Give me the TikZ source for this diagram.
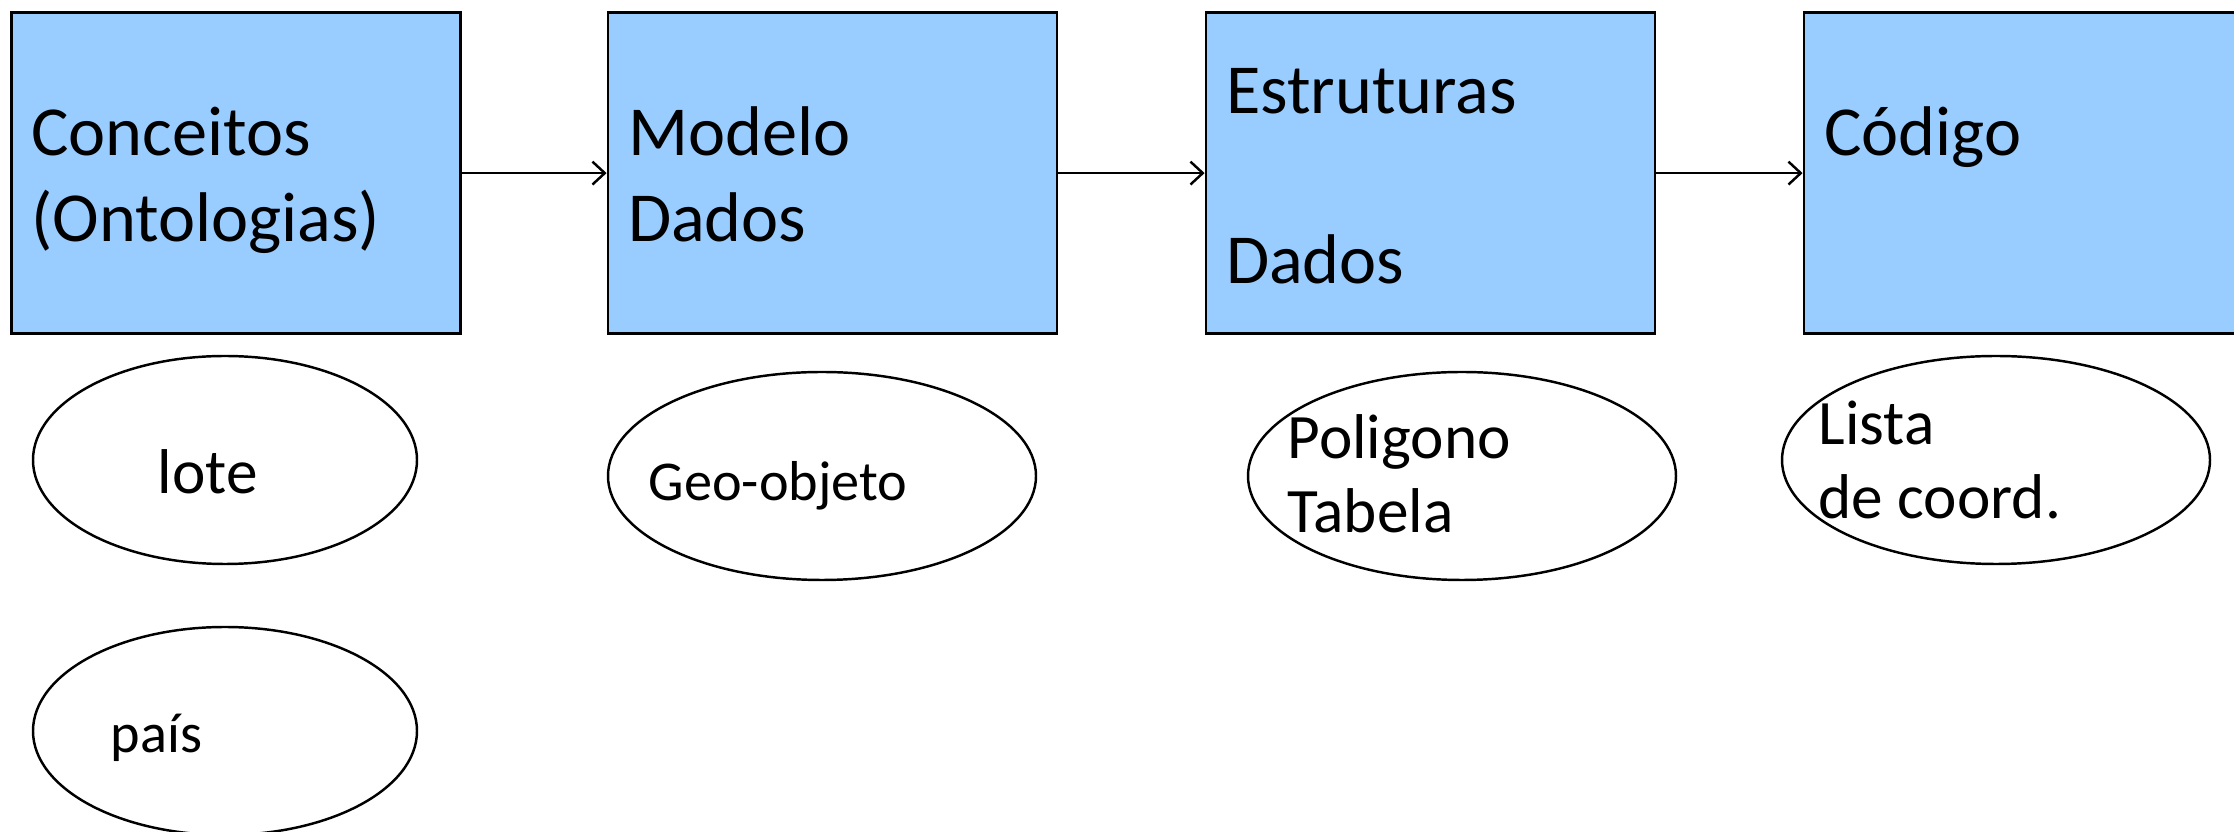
\documentclass[tikz,border=0pt]{standalone}
\usepackage{fontspec}
\setmainfont{Carlito}
\usetikzlibrary{shapes.geometric,arrows.meta}
\definecolor{boxblue}{HTML}{99CCFF}

\begin{document}
\begin{tikzpicture}[>={Straight Barb[length=3.5pt,width=6.5pt]},
  box/.style={draw,line width=0.8pt,fill=boxblue,minimum width=4.49cm,minimum height=3.21cm,
    text width=4.09cm,inner xsep=0.2cm,align=left,font=\fontsize{20}{24.2}\selectfont,
    execute at begin node={\rule{0pt}{19.45pt}},execute at end node={\rule[-5pt]{0pt}{5pt}}},
  oval/.style={draw,ellipse,line width=0.7pt,minimum height=2.08cm,inner sep=0pt},
  lbl/.style={inner sep=0pt,anchor=base west,align=left,font=\fontsize{18}{21.3}\selectfont},
  small/.style={lbl,font=\fontsize{16}{19}\selectfont}]
\useasboundingbox (0,0) rectangle (22.34,-8.32);
% etapas
\node[box] (conc) at (2.357,-1.731) {Conceitos\\(Ontologias)};
\node[box] (mod) at (8.325,-1.731) {Modelo\\Dados};
\node[box] (estr) at (14.305,-1.731) {Estruturas\\[0.85cm]Dados};
\node[box] (cod) at (20.285,-1.731) {Código\\\mbox{}};
\draw[->,line width=0.7pt] (conc) -- (mod);
\draw[->,line width=0.7pt] (mod) -- (estr);
\draw[->,line width=0.7pt] (estr) -- (cod);
% exemplos
\node[oval,minimum width=3.84cm] (lote) at (2.25,-4.60) {};
\node[oval,minimum width=3.84cm] (pais) at (2.25,-7.31) {};
\node[oval,minimum width=4.28cm] (geo) at (8.22,-4.76) {};
\node[oval,minimum width=4.28cm] (poli) at (14.62,-4.76) {};
\node[oval,minimum width=4.28cm] (lista) at (19.96,-4.60) {};
\node[lbl] (lotetxt) at (1.57,-4.94) {lote};
\node[small] (paistxt) at (1.10,-7.53) {país};
\node[small] (geotxt) at (6.48,-5.01) {Geo-objeto};
\node[lbl] (politxt) at (12.87,-5.33) {Poligono\\Tabela};
\node[lbl] (listatxt) at (18.18,-5.19) {Lista\\de coord.};
\end{tikzpicture}
\end{document}
